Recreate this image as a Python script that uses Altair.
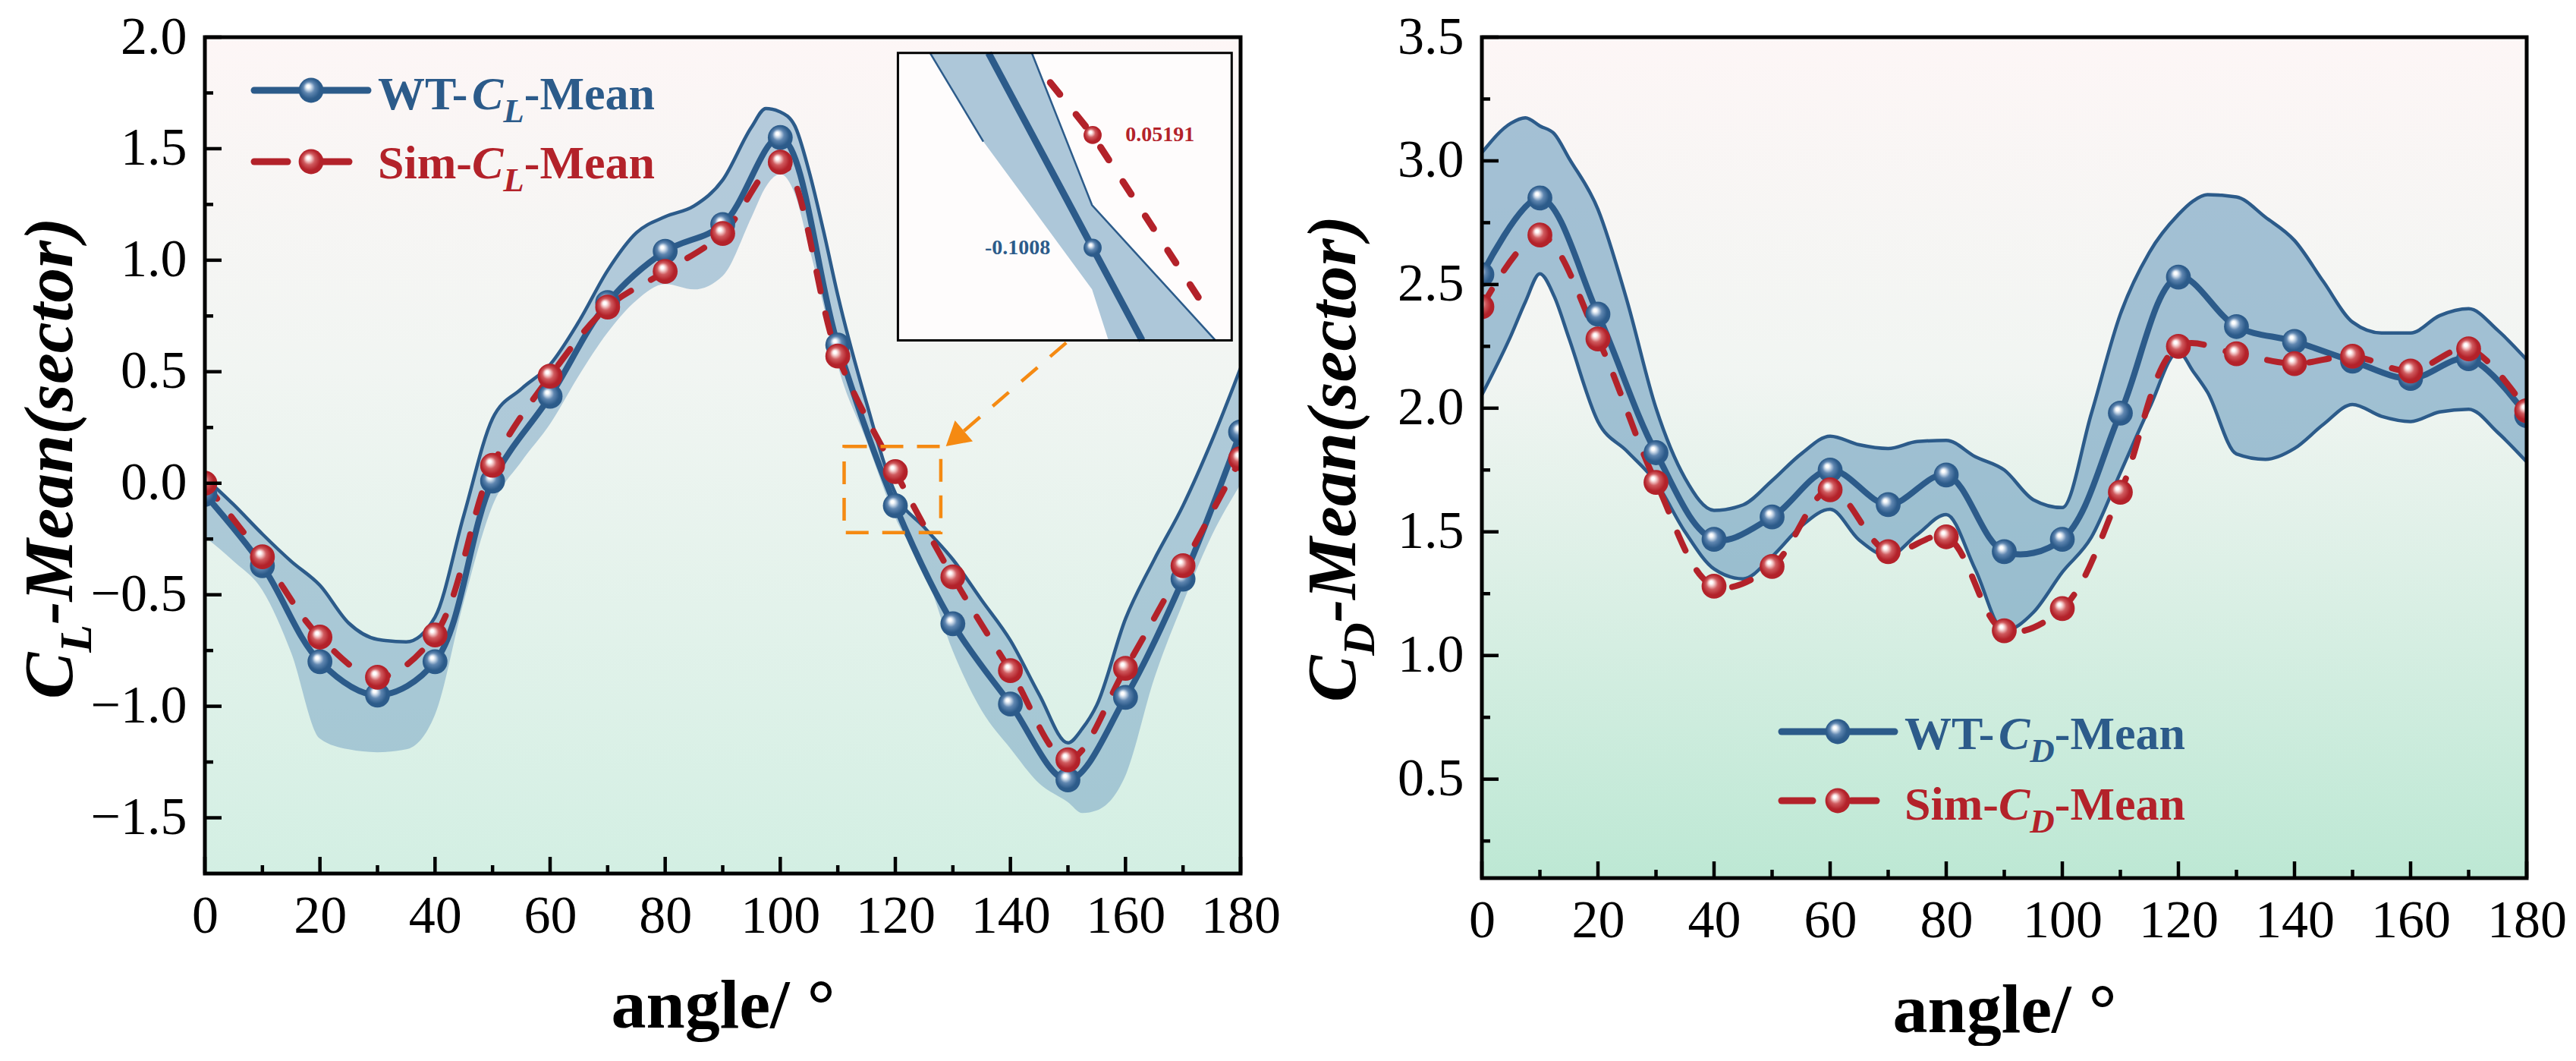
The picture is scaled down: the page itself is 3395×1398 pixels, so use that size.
import altair as alt
import pandas as pd

FONT = "Liberation Serif"
BLUE = "#2c5b8a"
RED = "#b3222a"
BANDC = "#7aa6c4"
ORANGE = "#f58a12"

# ---------------- data ----------------
angles = list(range(0, 181, 10))
wt_cl = [-0.05, -0.37, -0.80, -0.95, -0.80, 0.01, 0.39, 0.81, 1.04, 1.16, 1.55, 0.62,
         -0.1008, -0.63, -0.99, -1.33, -0.96, -0.43, 0.23]
sim_cl = [0.00, -0.33, -0.69, -0.87, -0.68, 0.08, 0.48, 0.79, 0.95, 1.12, 1.44, 0.57,
          0.05191, -0.42, -0.84, -1.24, -0.83, -0.37, 0.11]
wt_cd = [2.54, 2.85, 2.38, 1.82, 1.47, 1.56, 1.75, 1.61, 1.73, 1.42, 1.47, 1.98,
         2.53, 2.33, 2.27, 2.19, 2.12, 2.20, 1.97]
sim_cd = [2.41, 2.70, 2.28, 1.70, 1.28, 1.36, 1.67, 1.42, 1.48, 1.10, 1.19, 1.66,
          2.25, 2.22, 2.18, 2.21, 2.15, 2.24, 1.99]

band_cl_angle = [0, 5, 10, 15, 20, 25, 30, 35, 40, 45, 50, 55, 60, 65, 70, 75, 80, 85, 90, 95,
                 97.5, 100, 102.5, 105, 107.5, 110, 115, 120, 125, 130, 135, 140, 145, 150,
                 152.5, 155, 160, 165, 170, 175, 180]
band_cl_hi = [0.025, -0.096, -0.228, -0.35, -0.458, -0.627, -0.70, -0.711, -0.60, -0.144,
              0.29, 0.423, 0.532, 0.725, 0.954, 1.123, 1.195, 1.243, 1.36, 1.597,
              1.68, 1.665, 1.604, 1.399, 1.133, 0.843, 0.359, -0.045, -0.197, -0.342,
              -0.524, -0.705, -0.947, -1.164, -1.10, -0.995, -0.608, -0.342, -0.10, 0.19, 0.516]
band_cl_lo = [-0.24, -0.35, -0.48, -0.76, -1.145, -1.193, -1.206, -1.193, -1.037, -0.53,
              -0.10, 0.097, 0.266, 0.483, 0.676, 0.82, 0.893, 0.869, 0.93, 1.193,
              1.33, 1.387, 1.30, 1.06, 0.80, 0.528, 0.19, -0.155, -0.39, -0.753,
              -1.019, -1.189, -1.346, -1.43, -1.479, -1.467, -1.31, -0.875, -0.536, -0.234, -0.004]

band_cd_angle = [0, 5, 7.5, 10, 12.5, 15, 20, 25, 30, 35, 40, 45, 50, 55, 60, 65, 70, 75, 80,
                 85, 90, 95, 100, 105, 110, 115, 120, 122.5, 125, 130, 135, 140, 145, 150,
                 155, 160, 165, 170, 175, 180]
band_cd_hi = [3.033, 3.152, 3.174, 3.141, 3.109, 3.011, 2.804, 2.435, 2.0, 1.717, 1.587, 1.609,
              1.707, 1.815, 1.887, 1.852, 1.837, 1.865, 1.87, 1.804, 1.75, 1.63, 1.598, 1.978,
              2.38, 2.63, 2.783, 2.837, 2.863, 2.854, 2.772, 2.678, 2.511, 2.348, 2.304, 2.304,
              2.374, 2.402, 2.315, 2.196]
band_cd_lo = [2.054, 2.293, 2.43, 2.543, 2.45, 2.283, 1.946, 1.826, 1.70, 1.50, 1.35, 1.31,
              1.40, 1.522, 1.591, 1.467, 1.402, 1.489, 1.57, 1.348, 1.10, 1.174, 1.337, 1.478,
              1.739, 2.0, 2.228, 2.15, 2.065, 1.815, 1.793, 1.837, 1.935, 2.015, 1.967, 1.946,
              1.985, 1.996, 1.902, 1.783]

# zoom window (orange box) and inset contents
zoom_box_angle = [111.1, 127.9]
zoom_box_value = [-0.221, 0.165]
arrow_angle = [149.7, 131.9]
arrow_value = [0.63, 0.234]
arrow_head = [130.35, 0.200]

inset_angle_dom = [110.2, 127.0]
inset_value_dom = [-0.226, 0.163]
inset_band_angle = [111.82, 114.5, 116.94, 119.97, 120.8, 126.18]
inset_band_hi = [0.163, 0.163, 0.163, -0.043, -0.067, -0.226]
inset_band_lo = [0.163, 0.043, -0.046, -0.157, -0.226, -0.226]
inset_edge_angle = [116.94, 119.97, 126.18, 111.82, 114.5]
inset_edge_value = [0.163, -0.043, -0.226, 0.163, 0.043]
inset_edge_seg = [1, 1, 1, 2, 2]
inset_wt_angle = [114.76, 120.0, 122.49]
inset_wt_value = [0.163, -0.1008, -0.226]
inset_sim_angle = [117.87, 120.0, 125.93]
inset_sim_value = [0.123, 0.05191, -0.193]
inset_labels = ["0.05191", "-0.1008"]

ONE = pd.DataFrame({"k": [0]})

# Times-compatible advance widths (em)
W_B = {"W": 1.0, "T": 0.667, "-": 0.333, "M": 0.944, "e": 0.444, "a": 0.5, "n": 0.556,
       "S": 0.556, "i": 0.278, "m": 0.833}
W_BI = {"C": 0.667, "L": 0.611, "D": 0.722, "-": 0.333, "M": 0.889, "e": 0.444, "a": 0.5,
        "n": 0.556, "(": 0.333, "s": 0.389, "c": 0.444, "t": 0.278, "o": 0.5, "r": 0.389,
        ")": 0.333}


def tw(s, size, table):
    return sum(table.get(ch, 0.5) for ch in s) * size


def sphere(light, mid, dark):
    return alt.RadialGradient(
        gradient="radial",
        stops=[alt.GradientStop(color="#ffffff", offset=0.0),
               alt.GradientStop(color="#ffffff", offset=0.09),
               alt.GradientStop(color=light, offset=0.2),
               alt.GradientStop(color=mid, offset=0.38),
               alt.GradientStop(color=dark, offset=0.66),
               alt.GradientStop(color=dark, offset=1.0)],
        x1=0.37, y1=0.33, r1=0.0, x2=0.5, y2=0.5, r2=0.62)


SPH_B = sphere("#c9d8e8", "#5f86b0", BLUE)
SPH_R = sphere("#f3c9c9", "#cf5a5e", RED)


def txt(s, px, py, size, color, italic=False, angle=None, align="left", weight="bold"):
    kw = dict(text=s, font=FONT, fontSize=size, fontWeight=weight, color=color,
              align=align, baseline="alphabetic")
    if italic:
        kw["fontStyle"] = "italic"
    if angle is not None:
        kw["angle"] = angle
    return alt.Chart(ONE).mark_text(**kw).encode(x=alt.value(px), y=alt.value(py))


def legend_layers(x_line, x_mark, segs, x_text, rows, sub):
    out = []
    fs, sfs = 62, 45
    for prefix, ly, by, color, grad, dashed in rows:
        if dashed:
            for a, b in segs:
                out.append(alt.Chart(ONE).mark_rule(color=color, strokeWidth=9, strokeCap="round")
                           .encode(x=alt.value(a), x2=alt.value(b), y=alt.value(ly)))
        else:
            out.append(alt.Chart(ONE).mark_rule(color=color, strokeWidth=9, strokeCap="round")
                       .encode(x=alt.value(x_line[0]), x2=alt.value(x_line[1]), y=alt.value(ly)))
        out.append(alt.Chart(ONE).mark_point(shape="circle", filled=True, fill=grad, size=1075,
                                             strokeWidth=0, opacity=1)
                   .encode(x=alt.value(x_mark), y=alt.value(ly)))
        x = x_text
        out.append(txt(prefix, x, by, fs, color))
        x += tw(prefix, fs, W_B)
        out.append(txt("C", x, by, fs, color, italic=True))
        x += tw("C", fs, W_BI)
        out.append(txt(sub, x, by + 17, sfs, color, italic=True))
        x += tw(sub, sfs, W_BI)
        out.append(txt("-Mean", x, by, fs, color))
    return out


def ytitle_layers(sub, base_x, start_y):
    F, f = 92, 60
    out = []
    y = start_y
    out.append(txt("C", base_x, y, F, "black", italic=True, angle=270))
    y -= tw("C", F, W_BI)
    out.append(txt(sub, base_x + 25, y, f, "black", italic=True, angle=270))
    y -= tw(sub, f, W_BI)
    out.append(txt("-Mean(sector)", base_x, y, F, "black", italic=True, angle=270))
    return out


def panel(W, H, ydom, ymajor, yminor, wt, sim, b_ang, b_hi, b_lo, both_edges, bg_bottom,
          band_op, legend, title_sub, title_x, title_start, extra=None, inset=None, spacer=None):
    xs = alt.Scale(domain=[0, 180], nice=False, zero=False)
    ys = alt.Scale(domain=ydom, nice=False, zero=False)
    Xn = alt.X("a:Q", scale=xs)

    df = pd.DataFrame({"a": angles, "wt": wt, "sim": sim})
    dfb = pd.DataFrame({"a": b_ang, "hi": b_hi, "lo": b_lo})

    bg = alt.Chart(ONE).mark_rect(
        fill=alt.LinearGradient(gradient="linear",
                                stops=[alt.GradientStop(color="#fdf6f6", offset=0),
                                       alt.GradientStop(color="#f1f5f2", offset=0.4),
                                       alt.GradientStop(color=bg_bottom, offset=1)],
                                x1=0, y1=0, x2=0, y2=1)
    ).encode(x=alt.value(0), x2=alt.value(W), y=alt.value(0), y2=alt.value(H))

    band = alt.Chart(dfb).mark_area(fill=BANDC, fillOpacity=band_op, interpolate="monotone",
                                    clip=True).encode(
        x=alt.X("a:Q", scale=xs,
                axis=alt.Axis(values=list(range(0, 181, 20)), format="d", labelFont=FONT,
                              labelFontSize=70, labelColor="black", labelPadding=22,
                              labelFlush=False, ticks=False, tickSize=0, domain=False,
                              grid=False, title="angle/ °", titleFont=FONT, titleFontSize=92,
                              titleFontWeight="bold", titleColor="black", titlePadding=38)),
        y=alt.Y("hi:Q", scale=ys,
                axis=alt.Axis(values=ymajor, format=".1f", labelFont=FONT, labelFontSize=70,
                              labelColor="black", labelPadding=24, labelFlush=False,
                              ticks=False, tickSize=0, domain=False, grid=False, title="")),
        y2="lo:Q")

    layers = [bg, band]
    layers.append(alt.Chart(dfb).mark_line(color=BLUE, strokeWidth=4.5, interpolate="monotone",
                                           clip=True).encode(x=Xn, y=alt.Y("hi:Q", scale=ys)))
    if both_edges:
        layers.append(alt.Chart(dfb).mark_line(color=BLUE, strokeWidth=4.5, interpolate="monotone",
                                               clip=True).encode(x=Xn, y=alt.Y("lo:Q", scale=ys)))
    layers.append(alt.Chart(df).mark_line(color=BLUE, strokeWidth=8, interpolate="catmull-rom",
                                          clip=True).encode(x=Xn, y=alt.Y("wt:Q", scale=ys)))
    layers.append(alt.Chart(df).mark_line(color=RED, strokeWidth=8, interpolate="catmull-rom",
                                          strokeDash=[26, 30], strokeCap="round", clip=True)
                  .encode(x=Xn, y=alt.Y("sim:Q", scale=ys)))
    layers.append(alt.Chart(df).mark_point(shape="circle", filled=True, fill=SPH_B, size=1075,
                                           strokeWidth=0, opacity=1, clip=True)
                  .encode(x=Xn, y=alt.Y("wt:Q", scale=ys)))
    layers.append(alt.Chart(df).mark_point(shape="circle", filled=True, fill=SPH_R, size=1075,
                                           strokeWidth=0, opacity=1, clip=True)
                  .encode(x=Xn, y=alt.Y("sim:Q", scale=ys)))

    # inward ticks
    tmaj = pd.DataFrame({"v": ymajor})
    tmin = pd.DataFrame({"v": yminor})
    xmaj = pd.DataFrame({"v": list(range(0, 181, 20))})
    xmin = pd.DataFrame({"v": list(range(10, 180, 20))})
    layers.append(alt.Chart(tmaj).mark_rule(color="black", strokeWidth=4.5)
                  .encode(y=alt.Y("v:Q", scale=ys), x=alt.value(0), x2=alt.value(22)))
    layers.append(alt.Chart(tmin).mark_rule(color="black", strokeWidth=4.5)
                  .encode(y=alt.Y("v:Q", scale=ys), x=alt.value(0), x2=alt.value(11)))
    layers.append(alt.Chart(xmaj).mark_rule(color="black", strokeWidth=4.5)
                  .encode(x=alt.X("v:Q", scale=xs), y=alt.value(H), y2=alt.value(H - 22)))
    layers.append(alt.Chart(xmin).mark_rule(color="black", strokeWidth=4.5)
                  .encode(x=alt.X("v:Q", scale=xs), y=alt.value(H), y2=alt.value(H - 11)))

    if extra is not None:
        layers += extra(xs, ys)

    layers.append(alt.Chart(ONE).mark_rect(fillOpacity=0, stroke="black", strokeWidth=5)
                  .encode(x=alt.value(0), x2=alt.value(W), y=alt.value(0), y2=alt.value(H)))
    layers += legend_layers(**legend)
    layers += ytitle_layers(title_sub, title_x, title_start)
    if spacer is not None:
        layers.append(alt.Chart(ONE).mark_rect(color="white")
                      .encode(x=alt.value(0), x2=alt.value(2), y=alt.value(spacer), y2=alt.value(spacer + 1)))

    main = alt.layer(*layers)
    if inset is not None:
        ch = alt.layer(main, inset).resolve_scale(x="independent", y="independent")
    else:
        ch = main
    return ch.properties(width=W, height=H)


# ---------------- left panel extras ----------------
def left_extra(xs, ys):
    box = pd.DataFrame({"x1": [zoom_box_angle[0]], "x2": [zoom_box_angle[1]],
                        "y1": [zoom_box_value[0]], "y2": [zoom_box_value[1]]})
    arr = pd.DataFrame({"x1": [arrow_angle[0]], "x2": [arrow_angle[1]],
                        "y1": [arrow_value[0]], "y2": [arrow_value[1]]})
    head = pd.DataFrame({"x": [arrow_head[0]], "y": [arrow_head[1]]})
    return [
        alt.Chart(box).mark_rect(fillOpacity=0, stroke=ORANGE, strokeWidth=4.5, strokeDash=[30, 18])
        .encode(x=alt.X("x1:Q", scale=xs), x2="x2:Q",
                y=alt.Y("y1:Q", scale=ys), y2="y2:Q"),
        alt.Chart(arr).mark_rule(color=ORANGE, strokeWidth=4.5, strokeDash=[28, 22])
        .encode(x=alt.X("x1:Q", scale=xs), x2="x2:Q",
                y=alt.Y("y1:Q", scale=ys), y2="y2:Q"),
        alt.Chart(head).mark_point(shape="triangle-up", angle=229.4, filled=True, color=ORANGE,
                                   size=1300, opacity=1)
        .encode(x=alt.X("x:Q", scale=xs), y=alt.Y("y:Q", scale=ys)),
    ]


W_L, H_L = 1365, 1102
W_R, H_R = 1377, 1108
DY = 4  # left plot sits 4px higher than in the reference, right plot 4px lower

ixs = alt.Scale(domain=inset_angle_dom, range=[913.4, 1353.3], nice=False, zero=False)
iys = alt.Scale(domain=inset_value_dom, range=[395.4 + DY, 16.8 + DY], nice=False, zero=False)
IX = lambda f: alt.X(f + ":Q", scale=ixs, axis=None)
IY = lambda f: alt.Y(f + ":Q", scale=iys, axis=None)

ibox = pd.DataFrame({"x1": [inset_angle_dom[0]], "x2": [inset_angle_dom[1]],
                     "y1": [inset_value_dom[0]], "y2": [inset_value_dom[1]]})
iband = pd.DataFrame({"a": inset_band_angle, "hi": inset_band_hi, "lo": inset_band_lo})
iedge = pd.DataFrame({"a": inset_edge_angle, "v": inset_edge_value, "s": inset_edge_seg})
iwt = pd.DataFrame({"a": inset_wt_angle, "v": inset_wt_value})
isim = pd.DataFrame({"a": inset_sim_angle, "v": inset_sim_value})
ipts_b = pd.DataFrame({"a": [120.0], "v": [wt_cl[12]]})
ipts_r = pd.DataFrame({"a": [120.0], "v": [sim_cl[12]]})
ilab_r = pd.DataFrame({"a": [121.65], "v": [sim_cl[12]], "t": [inset_labels[0]]})
ilab_b = pd.DataFrame({"a": [117.87], "v": [wt_cl[12]], "t": [inset_labels[1]]})

inset = alt.layer(
    alt.Chart(ibox).mark_rect(fill="#fefcfc").encode(x=IX("x1"), x2="x2:Q", y=IY("y1"), y2="y2:Q"),
    alt.Chart(iband).mark_area(fill=BANDC, fillOpacity=0.62).encode(x=IX("a"), y=IY("hi"), y2="lo:Q"),
    alt.Chart(iedge).mark_line(color=BLUE, strokeWidth=2.5).encode(x=IX("a"), y=IY("v"), detail="s:N"),
    alt.Chart(iwt).mark_line(color=BLUE, strokeWidth=9).encode(x=IX("a"), y=IY("v")),
    alt.Chart(isim).mark_line(color=RED, strokeWidth=9, strokeDash=[20, 34], strokeCap="round")
    .encode(x=IX("a"), y=IY("v")),
    alt.Chart(ipts_b).mark_point(shape="circle", filled=True, fill=SPH_B, size=570, strokeWidth=0,
                                 opacity=1).encode(x=IX("a"), y=IY("v")),
    alt.Chart(ipts_r).mark_point(shape="circle", filled=True, fill=SPH_R, size=570, strokeWidth=0,
                                 opacity=1).encode(x=IX("a"), y=IY("v")),
    alt.Chart(ilab_r).mark_text(font=FONT, fontSize=28, fontWeight="bold", color=RED, align="left",
                                baseline="middle").encode(x=IX("a"), y=IY("v"), text="t:N"),
    alt.Chart(ilab_b).mark_text(font=FONT, fontSize=28, fontWeight="bold", color=BLUE, align="right",
                                baseline="middle").encode(x=IX("a"), y=IY("v"), text="t:N"),
    alt.Chart(ibox).mark_rect(fillOpacity=0, stroke="black", strokeWidth=3)
    .encode(x=IX("x1"), x2="x2:Q", y=IY("y1"), y2="y2:Q"),
)

left = panel(
    W_L, H_L, [-1.75, 2.0], [-1.5, -1.0, -0.5, 0.0, 0.5, 1.0, 1.5, 2.0],
    [-1.25, -0.75, -0.25, 0.25, 0.75, 1.25, 1.75],
    wt_cl, sim_cl, band_cl_angle, band_cl_hi, band_cl_lo, False, "#d3efe3", 0.55,
    dict(x_line=[65, 215], x_mark=140, segs=[[65, 109], [155, 190]], x_text=228,
         rows=[("WT-", 66 + DY, 91 + DY, BLUE, SPH_B, False),
               ("Sim-", 160 + DY, 182 + DY, RED, SPH_R, True)], sub="L"),
    "L", -175, 868 + DY, extra=left_extra, inset=inset, spacer=-40)

right = panel(
    W_R, H_R, [0.1, 3.5], [0.5, 1.0, 1.5, 2.0, 2.5, 3.0, 3.5],
    [0.25, 0.75, 1.25, 1.75, 2.25, 2.75, 3.25],
    wt_cd, sim_cd, band_cd_angle, band_cd_hi, band_cd_lo, True, "#bde8d4", 0.68,
    dict(x_line=[395, 544], x_mark=469, segs=[[395, 436], [487, 520]], x_text=557,
         rows=[("WT-", 919 - DY, 942 - DY, BLUE, SPH_B, False),
               ("Sim-", 1010 - DY, 1035 - DY, RED, SPH_R, True)], sub="D"),
    "D", -167, 880 - DY, spacer=-40)

chart = alt.hconcat(left, right, spacing=23).properties(
    padding={"left": 12, "top": 0, "right": 0, "bottom": 0}
).configure_view(strokeWidth=0).configure(background="white")

chart.save("out.html", embed_options={"renderer": "svg", "actions": False})
